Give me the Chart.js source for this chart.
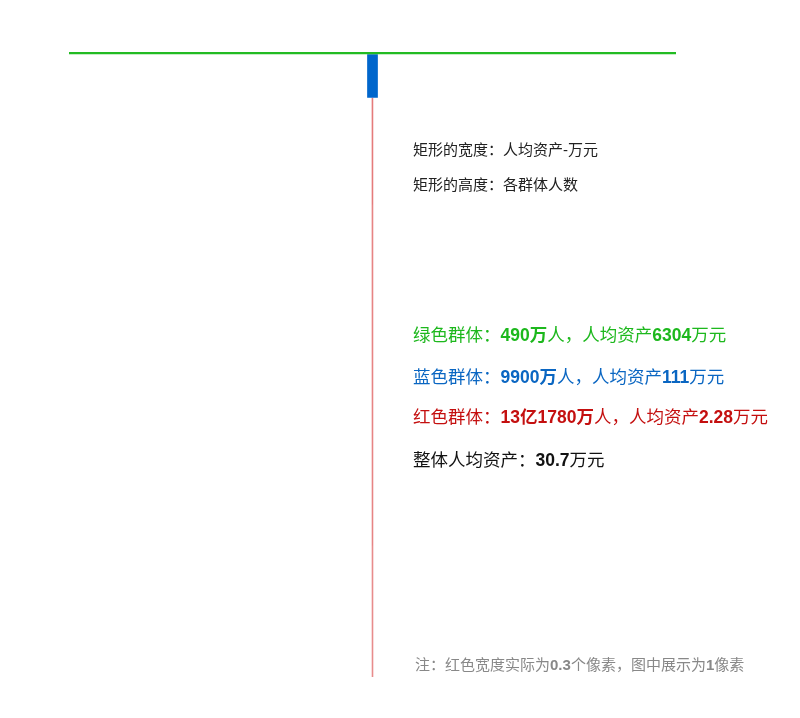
<!DOCTYPE html>
<html>
<head>
<meta charset="utf-8">
<script src="https://cdn.jsdelivr.net/npm/chart.js@4"></script>
<style>
  body { margin: 0; background: #fff; font-family: "Liberation Sans", "Noto Sans CJK SC", sans-serif; }
  #wrap { position: relative; width: 800px; height: 718px; }
  canvas { position: absolute; left: 0; top: 0; }
  .note { position: absolute; left: 413px; white-space: nowrap; line-height: 1; }
  .note b { font-weight: bold; }
</style>
</head>
<body>
<div id="wrap">
  <canvas id="chart" width="800" height="718"></canvas>
  <div class="note" style="top:142px;font-size:15px;color:#222;">矩形的宽度：人均资产-万元</div>
  <div class="note" style="top:177px;font-size:15px;color:#222;">矩形的高度：各群体人数</div>
  <div class="note" style="top:327px;font-size:17.5px;color:#1db81d;">绿色群体：<b>490万</b>人，人均资产<b>6304</b>万元</div>
  <div class="note" style="top:369px;font-size:17.5px;color:#0a66c2;">蓝色群体：<b>9900万</b>人，人均资产<b>111</b>万元</div>
  <div class="note" style="top:409px;font-size:17.5px;color:#c40f0f;">红色群体：<b>13亿1780万</b>人，人均资产<b>2.28</b>万元</div>
  <div class="note" style="top:452px;font-size:17.5px;color:#111;">整体人均资产：<b>30.7</b>万元</div>
  <div class="note" style="top:657px;left:415px;font-size:15px;color:#888;">注：红色宽度实际为<b>0.3</b>个像素，图中展示为<b>1</b>像素</div>
</div>
<script>
  // groups: width = average assets (万元), height = population (万人)
  const groups = ["绿色群体", "蓝色群体", "红色群体"];
  const population = [490, 9900, 131780];
  const avgAssets = [6304, 111, 2.28];
  const colors = ["#22bb22", "#0066cc", "#cc0000"];
  // red is too thin to see, so it gets a soft 1-2px outline
  const borderColors = ["#22bb22", "#0066cc", "rgba(204,0,0,0.45)"];
  const borderWidths = [0, 0, 1.6];

  const totalPop = population.reduce((a, b) => a + b, 0);
  const maxAsset = Math.max(...avgAssets);

  // each group becomes a closed rectangle outline, centred on x = 0
  let yStart = 0;
  const datasets = groups.map((name, i) => {
    const half = avgAssets[i] / 2;
    const yEnd = yStart + population[i];
    const pts = [
      { x: -half, y: yStart },
      { x: half, y: yStart },
      { x: half, y: yEnd },
      { x: -half, y: yEnd },
      { x: -half, y: yStart }
    ];
    yStart = yEnd;
    return {
      label: name,
      data: pts,
      backgroundColor: colors[i],
      borderColor: borderColors[i],
      borderWidth: borderWidths[i],
      fill: "shape",
      pointRadius: 0,
      tension: 0,
      clip: false
    };
  });

  new Chart(document.getElementById("chart"), {
    type: "line",
    data: { datasets: datasets },
    options: {
      responsive: false,
      animation: false,
      layout: { padding: { left: 69, right: 124, top: 52, bottom: 41 } },
      plugins: { legend: { display: false }, tooltip: { enabled: false } },
      scales: {
        x: { type: "linear", min: -maxAsset / 2, max: maxAsset / 2, display: false },
        y: { type: "linear", min: 0, max: totalPop, reverse: true, display: false }
      }
    }
  });
</script>
</body>
</html>
